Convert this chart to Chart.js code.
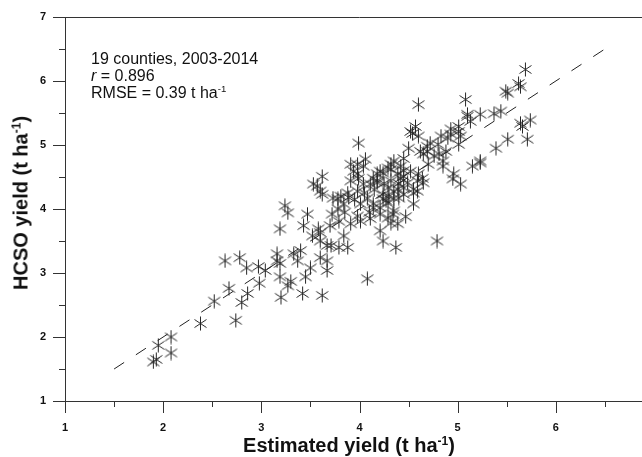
<!DOCTYPE html>
<html lang="en">
<head>
<meta charset="UTF-8">
<title>HCSO vs estimated yield</title>
<script src="https://cdn.jsdelivr.net/npm/chart.js"></script>
<style>
    body { margin: 0; background: #fff; overflow: hidden; }
    .wrap { position: relative; width: 642px; height: 457px; overflow: hidden; }
    canvas { position: absolute; left: 0; top: 0; }
    .txt { position: absolute; font-family: "Liberation Sans", Arial, sans-serif; color: #111; white-space: nowrap; }
    .note { left: 91px; top: 50px; font-size: 16px; line-height: 17px; }
    .title { font-weight: bold; font-size: 20px; line-height: 22px; }
    .xt { left: 349px; top: 434px; transform: translateX(-50%); }
    .yt { left: 22px; top: 203px; transform: translate(-50%, -50%) rotate(-90deg); }
    sup { font-size: 0.6em; vertical-align: baseline; position: relative; top: -0.6em; }
</style>
</head>
<body>
<div class="wrap">
    <canvas id="chart" width="660" height="457"></canvas>
    <div class="txt note">19 counties, 2003-2014<br><i>r</i> = 0.896<br>RMSE = 0.39 t ha<sup>-1</sup></div>
    <div class="txt title xt">Estimated yield (t ha<sup>-1</sup>)</div>
    <div class="txt title yt">HCSO yield (t ha<sup>-1</sup>)</div>
</div>
<script>
    // estimated yield (x) and HCSO yield (y), t/ha
    const estimated = [
        1.90, 1.93, 1.95, 2.08, 2.08, 2.38, 2.52, 2.67, 2.74, 2.63, 2.78, 2.85, 2.86, 2.80, 2.97, 2.98, 3.04,
        3.16, 3.16, 3.19, 3.37, 3.40, 3.50, 3.60, 3.67, 3.67, 3.45, 3.19, 3.30, 3.27, 3.42, 3.20, 3.62, 4.08, 3.33,
        3.62, 3.57, 3.62, 3.53, 3.24, 3.27, 3.19, 3.47, 3.43, 3.52, 3.58, 3.60, 3.67, 3.71, 3.79, 3.91, 3.84, 3.78,
        3.88, 3.98, 4.01, 4.08, 3.98, 4.11, 4.21, 4.24, 4.37, 4.11, 4.18, 4.29, 3.98, 4.04, 3.91, 4.32, 4.39, 4.35,
        4.29, 4.21, 3.78, 3.72, 3.84, 3.88, 3.70, 3.60, 4.14, 3.89, 4.01, 3.79, 4.79, 4.47, 4.39, 4.32, 4.34, 4.21,
        4.14, 4.29, 5.39, 5.15, 5.23, 4.96, 5.03, 4.95, 4.85, 4.85, 4.76, 4.69, 5.01, 4.65, 4.59, 4.55, 4.40, 4.30,
        4.27, 4.57, 4.54, 4.60, 4.72, 4.83, 4.90, 4.93, 5.01, 5.03, 5.10, 5.01, 4.88, 4.65, 4.64, 4.59, 4.55, 4.45,
        4.42, 4.35, 4.32, 4.24, 4.18, 4.32, 4.45, 4.49, 4.39, 4.18, 4.24, 4.35, 4.45, 4.55, 4.60, 5.08, 3.99, 4.06,
        4.52, 4.80, 4.69, 4.62, 4.81, 4.29, 4.21, 4.14, 4.42, 4.52, 4.60, 4.45, 3.98, 3.94, 3.99, 4.04, 3.91, 3.60,
        3.81, 3.73, 4.24, 4.35, 5.69, 5.62, 5.64, 5.49, 5.51, 5.10, 5.13, 5.23, 5.37, 5.44, 5.64, 5.74, 5.66, 5.71,
        5.51, 5.23, 4.93, 4.05, 4.15, 3.95, 4.10, 4.45, 4.70, 4.50, 3.85, 4.25, 4.40
    ];
    const hcso = [
        1.61, 1.65, 1.87, 2.00, 1.75, 2.21, 2.56, 2.76, 2.26, 3.19, 3.24, 3.08, 2.68, 2.54, 3.10, 2.84, 3.04,
        3.30, 3.19, 3.15, 3.19, 3.35, 3.08, 3.24, 3.19, 3.04, 2.94, 2.94, 2.87, 2.80, 2.68, 2.62, 2.65, 2.91, 3.30,
        4.51, 4.36, 4.23, 4.39, 4.05, 3.94, 3.69, 3.92, 3.74, 3.58, 3.69, 3.50, 3.43, 3.43, 3.81, 3.77, 4.08, 4.16,
        4.25, 4.28, 4.08, 4.17, 3.89, 3.85, 3.66, 3.50, 3.40, 4.39, 4.44, 4.33, 4.55, 4.67, 4.70, 4.70, 4.55, 3.97,
        3.86, 4.02, 4.00, 3.92, 3.58, 3.40, 3.74, 3.63, 4.08, 4.18, 3.81, 3.40, 3.50, 3.88, 3.77, 3.78, 3.92, 3.92,
        4.02, 4.09, 4.95, 4.67, 4.72, 4.55, 4.39, 4.47, 4.75, 4.67, 4.83, 4.98, 5.01, 4.41, 4.28, 4.25, 4.17, 4.20,
        4.13, 5.29, 5.18, 5.14, 5.03, 5.14, 5.11, 5.17, 5.21, 5.14, 5.45, 5.29, 4.90, 4.86, 4.48, 4.44, 4.31, 4.79,
        4.67, 4.75, 4.62, 4.56, 4.55, 4.44, 4.51, 4.41, 4.31, 4.41, 4.16, 4.17, 4.23, 4.08, 5.63, 5.71, 5.03, 4.78,
        5.21, 5.01, 4.90, 4.90, 4.86, 4.64, 4.59, 4.48, 4.48, 4.59, 4.55, 4.33, 4.70, 4.59, 4.48, 4.39, 4.44, 4.28,
        4.20, 4.17, 4.23, 4.28, 6.18, 5.96, 5.91, 5.84, 5.81, 5.48, 5.37, 5.48, 5.49, 5.53, 5.34, 5.39, 5.29, 5.09,
        5.09, 4.75, 5.25, 4.25, 4.30, 4.15, 3.95, 4.60, 4.70, 4.95, 3.95, 4.40, 4.40
    ];
    const lineX = [1.5, 6.5];
    const lineY = [1.5, 6.5];
    const xRange = [1, 7];
    const yRange = [1, 7];

    // six-armed asterisk marker
    function asterisk() {
        const c = document.createElement('canvas');
        c.width = 15; c.height = 15;
        const g = c.getContext('2d');
        g.strokeStyle = '#262626';
        g.lineWidth = 1;
        g.beginPath();
        g.moveTo(7.5, 0.5); g.lineTo(7.5, 14.5);
        g.moveTo(1.5, 3.5); g.lineTo(13.5, 11.5);
        g.moveTo(1.5, 11.5); g.lineTo(13.5, 3.5);
        g.stroke();
        return c;
    }

    const points = estimated.map((x, i) => ({ x: x, y: hcso[i] }));
    const line = lineX.map((x, i) => ({ x: x, y: lineY[i] }));

    // tick marks (major + minor, outward) and top/right frame
    const frame = {
        id: 'frame',
        afterDraw(chart) {
            const ctx = chart.ctx, a = chart.chartArea;
            const sx = chart.scales.x, sy = chart.scales.y;
            ctx.save();
            ctx.strokeStyle = '#333';
            ctx.lineWidth = 1;
            ctx.beginPath();
            for (let v = xRange[0]; v <= xRange[1]; v += 0.5) {
                const p = Math.round(sx.getPixelForValue(v)) + 0.5;
                ctx.moveTo(p, a.bottom);
                ctx.lineTo(p, a.bottom + (v % 1 === 0 ? 12 : 6));
            }
            for (let v = yRange[0]; v <= yRange[1]; v += 0.5) {
                const p = Math.round(sy.getPixelForValue(v)) + 0.5;
                ctx.moveTo(a.left, p);
                ctx.lineTo(a.left - (v % 1 === 0 ? 12 : 6), p);
            }
            ctx.moveTo(a.left, Math.round(a.top) + 0.5);
            ctx.lineTo(a.right, Math.round(a.top) + 0.5);
            ctx.lineTo(a.right, a.bottom);
            ctx.stroke();
            ctx.restore();
        }
    };

    const tickFont = { family: '"Liberation Sans Narrow", "Arial Narrow", Arial, sans-serif', size: 11, weight: 'bold' };
    // invisible tick marks only push the labels away from the axis
    const hiddenGrid = len => ({ display: true, drawOnChartArea: false, drawTicks: true, tickLength: len, tickColor: 'rgba(0,0,0,0)' });

    new Chart(document.getElementById('chart'), {
        type: 'scatter',
        data: {
            datasets: [{
                data: points,
                pointStyle: asterisk(),
                pointRadius: 7,
                order: 2
            }, {
                type: 'line',
                data: line,
                borderColor: '#222',
                borderWidth: 1,
                borderDash: [12, 14],
                pointRadius: 0,
                fill: false,
                order: 1
            }]
        },
        options: {
            responsive: false,
            animation: false,
            layout: { autoPadding: false, padding: { left: 0, top: 17, right: 6, bottom: 0 } },
            plugins: { legend: { display: false }, tooltip: { enabled: false } },
            scales: {
                x: {
                    type: 'linear',
                    min: xRange[0], max: xRange[1],
                    grid: hiddenGrid(20),
                    border: { display: true, color: '#333', width: 1 },
                    ticks: { stepSize: 1, padding: 0, color: '#111', font: tickFont, maxRotation: 0 },
                    afterFit(s) { s.height = 56; }
                },
                y: {
                    type: 'linear',
                    min: yRange[0], max: yRange[1],
                    grid: hiddenGrid(19),
                    border: { display: true, color: '#333', width: 1 },
                    ticks: { stepSize: 1, padding: 0, color: '#111', font: tickFont },
                    afterFit(s) { s.width = 65; }
                }
            }
        },
        plugins: [frame]
    });
</script>
</body>
</html>
